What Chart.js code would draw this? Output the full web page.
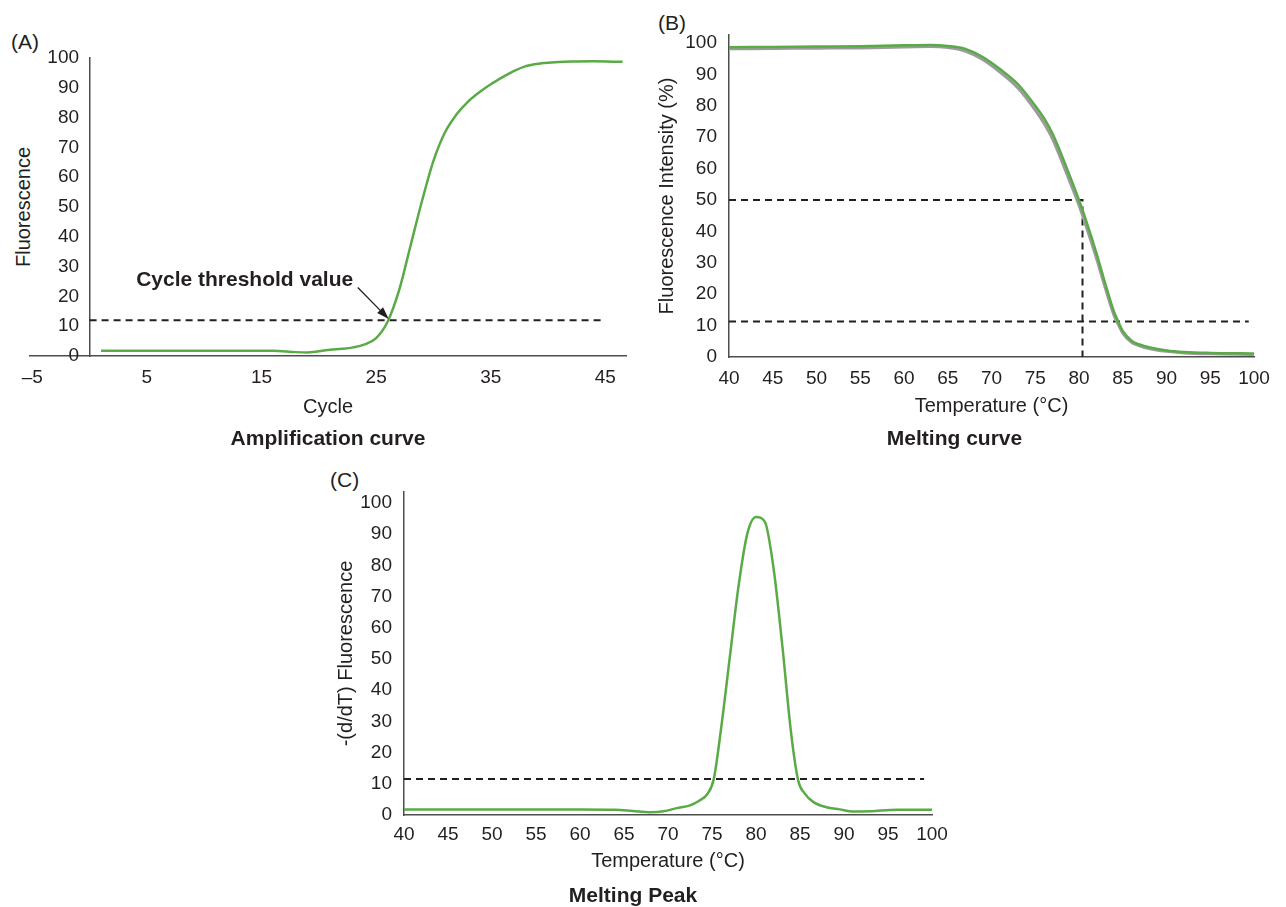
<!DOCTYPE html>
<html>
<head>
<meta charset="utf-8">
<script src="https://cdn.jsdelivr.net/npm/chart.js@4.4.1/dist/chart.umd.min.js"></script>
<style>
  body { margin: 0; width: 1286px; height: 907px; background: #fff; overflow: hidden; position: relative;
         font-family: "Liberation Sans", Arial, sans-serif; color: #231f20; }
  .panel { position: absolute; }
  .lbl { position: absolute; font-size: 21px; line-height: 1; white-space: nowrap; }
  .ytitle { position: absolute; width: 240px; text-align: center; font-size: 20px; line-height: 24px;
            transform: rotate(-90deg); transform-origin: 50% 50%; white-space: nowrap; }
</style>
</head>
<body>
<div class="lbl" style="left:11px;top:31px">(A)</div>
<div class="lbl" style="left:658px;top:12px">(B)</div>
<div class="lbl" style="left:330px;top:469px">(C)</div>
<div class="ytitle" style="left:-97px;top:195px">Fluorescence</div>

<div class="panel" style="left:0;top:0;width:650px;height:460px"><canvas id="chartA"></canvas></div>
<div class="panel" style="left:640px;top:0;width:646px;height:460px"><canvas id="chartB"></canvas></div>
<div class="panel" style="left:320px;top:460px;width:640px;height:450px"><canvas id="chartC"></canvas></div>

<script>
// (A) amplification curve
const cycles = [1, 4, 8, 12, 16, 18, 19, 20, 21, 22, 23, 24, 25, 26, 27, 28, 29, 30, 31, 32, 33, 34, 35, 36, 37, 38, 39, 40, 42, 44, 46.5];
const fluorescence = [1.8, 1.8, 1.8, 1.8, 1.8, 1.3, 1.2, 1.6, 2.1, 2.4, 2.9, 3.9, 6.0, 11.5, 22, 37, 52, 65.5, 75, 81, 85.3, 88.5, 91.2, 93.5, 95.6, 97.2, 98.0, 98.4, 98.8, 98.9, 98.7];
const thresholdA = 12;
const thresholdSpanA = [0, 44.8];
const cycleTicks = [-5, 5, 15, 25, 35, 45];

// (B) melting curve (green run + grey replicate)
const tempB = [40, 45, 50, 55, 60, 63, 65, 67, 69, 71, 73, 75, 76, 77, 78, 79, 80, 81, 82, 83, 84, 84.5, 85, 86, 87, 88, 90, 92, 95, 100];
const intensity = [98.6, 98.7, 98.8, 98.9, 99.2, 99.3, 99.0, 98.1, 95.5, 91.6, 86.9, 80, 76, 71, 64.4, 57.3, 50, 41.8, 33, 23.4, 14.4, 11.2, 8.3, 5.2, 3.9, 3.1, 2.1, 1.6, 1.3, 1.1];
const intensityRep = [98.1, 98.2, 98.3, 98.4, 98.7, 98.8, 98.5, 97.4, 94.7, 90.6, 85.7, 78.6, 74.4, 69.3, 62.6, 55.5, 48.3, 40.1, 31.4, 22.0, 13.3, 10.3, 7.6, 4.7, 3.5, 2.7, 1.8, 1.3, 1.0, 0.8];
const thresholdB = 11.3;
const thresholdSpanB = [40, 99.4];
const halfMelt = 50;
const tmB = 80.4;

// (C) melting peak
const tempC = [40, 45, 50, 55, 60, 64, 66, 68, 69.5, 71, 72.5, 73.5, 74.5, 75.2, 76, 77, 78, 79, 80, 81, 82, 83, 84, 84.8, 85.5, 86.5, 88, 89.5, 91, 93, 96, 100];
const derivative = [1.8, 1.8, 1.8, 1.8, 1.8, 1.7, 1.3, 0.9, 1.2, 2.2, 3.1, 4.5, 6.8, 11.5, 27, 50, 73, 90, 95.5, 94, 79, 54, 26, 11, 7, 4.2, 2.5, 1.8, 1.1, 1.2, 1.7, 1.7];
const thresholdC = 11.5;
const thresholdSpanC = [40, 99.1];

const tempTicks = [40, 45, 50, 55, 60, 65, 70, 75, 80, 85, 90, 95, 100];
const yTicks = [0, 10, 20, 30, 40, 50, 60, 70, 80, 90, 100];

// annotation in (A)
const arrowFrom = { x: 23.4, y: 23 };
const arrowTo = { x: 26.1, y: 12.4 };
const ctLabel = { x: 23, y: 25.4, text: 'Cycle threshold value' };

const ink = '#231f20';
const axisColor = '#4d4d4d';
const green = '#5aab47';
const grey = '#9b9b9b';

Chart.defaults.font.family = '"Liberation Sans", Arial, sans-serif';
Chart.defaults.color = ink;

const pts = (xs, ys) => xs.map((x, i) => ({ x: x, y: ys[i] }));

const curve = (data, color, width) => ({
  data: data, borderColor: color, borderWidth: width, pointRadius: 0,
  cubicInterpolationMode: 'monotone', fill: false
});
const dashed = (data) => ({
  data: data, borderColor: ink, borderWidth: 2, borderDash: [7, 5],
  pointRadius: 0, tension: 0, fill: false
});

const xAxis = (min, max, ticks, title, height, pad, fmt) => ({
  type: 'linear', min: min, max: max,
  grid: { display: false, drawTicks: false },
  border: { color: axisColor, width: 1.5 },
  ticks: { color: ink, font: { size: 19 }, padding: pad, maxRotation: 0, autoSkip: false,
           callback: fmt || (v => v) },
  afterBuildTicks: s => { s.ticks = ticks.map(v => ({ value: v })); },
  afterFit: s => { s.height = height; },
  title: { display: true, text: title, color: ink, font: { size: 20 }, padding: 0 }
});

const yAxis = (max, title, width, position, fmt) => ({
  type: 'linear', min: 0, max: max, position: position || 'left',
  grid: { display: false, drawTicks: false },
  border: { color: axisColor, width: 1.5 },
  ticks: { color: ink, font: { size: 19 }, padding: 12, callback: fmt || (v => v) },
  afterBuildTicks: s => { s.ticks = yTicks.map(v => ({ value: v })); },
  afterFit: s => { if (width) s.width = width; },
  title: { display: !!title, text: title, color: ink, font: { size: 20 }, padding: 0 }
});

const caption = (text, top) => ({
  display: true, position: 'bottom', text: text, color: ink,
  font: { size: 21, weight: 'bold' }, padding: { top: top, bottom: 0 }
});

const annotate = {
  id: 'annotate',
  afterDatasetsDraw(chart) {
    const { ctx, scales: { x, y } } = chart;
    const x1 = x.getPixelForValue(arrowFrom.x), y1 = y.getPixelForValue(arrowFrom.y);
    const x2 = x.getPixelForValue(arrowTo.x), y2 = y.getPixelForValue(arrowTo.y);
    const ang = Math.atan2(y2 - y1, x2 - x1);
    const head = 13;
    ctx.save();
    ctx.strokeStyle = ink;
    ctx.fillStyle = ink;
    ctx.lineWidth = 1.3;
    ctx.beginPath();
    ctx.moveTo(x1, y1);
    ctx.lineTo(x2 - head * 0.8 * Math.cos(ang), y2 - head * 0.8 * Math.sin(ang));
    ctx.stroke();
    ctx.beginPath();
    ctx.moveTo(x2, y2);
    ctx.lineTo(x2 - head * Math.cos(ang - 0.32), y2 - head * Math.sin(ang - 0.32));
    ctx.lineTo(x2 - head * Math.cos(ang + 0.32), y2 - head * Math.sin(ang + 0.32));
    ctx.closePath();
    ctx.fill();
    ctx.font = 'bold 21px "Liberation Sans", Arial, sans-serif';
    ctx.textAlign = 'right';
    ctx.textBaseline = 'middle';
    ctx.fillText(ctLabel.text, x.getPixelForValue(ctLabel.x), y.getPixelForValue(ctLabel.y));
    ctx.restore();
  }
};

const baseOpts = (padding, scales, title) => ({
  responsive: true, maintainAspectRatio: false, animation: false,
  layout: { padding: padding },
  scales: scales,
  plugins: { legend: { display: false }, tooltip: { enabled: false }, title: title }
});

new Chart(document.getElementById('chartA'), {
  type: 'line',
  data: { datasets: [
    curve(pts(cycles, fluorescence), green, 2.5),
    dashed([{ x: thresholdSpanA[0], y: thresholdA }, { x: thresholdSpanA[1], y: thresholdA }])
  ] },
  options: baseOpts({ left: 30, right: 24, top: 58, bottom: 8 }, {
    x: xAxis(-5.2, 46.8, cycleTicks, 'Cycle', 63, 10, v => v < 0 ? '\u2013' + Math.abs(v) : v),
    // axis sits at cycle 0; labels at that position get no padding, so pad them with spaces
    y: yAxis(100, '', 0, { x: 0 }, v => v + '  ')
  }, caption('Amplification curve', 7.8)),
  plugins: [annotate]
});

new Chart(document.getElementById('chartB'), {
  type: 'line',
  data: { datasets: [
    curve(pts(tempB, intensity), green, 2.5),
    curve(pts(tempB, intensityRep), grey, 3),
    dashed([{ x: 40, y: halfMelt }, { x: tmB, y: halfMelt }, { x: tmB, y: 0 }]),
    dashed([{ x: thresholdSpanB[0], y: thresholdB }, { x: thresholdSpanB[1], y: thresholdB }])
  ] },
  options: baseOpts({ left: 15, right: 32, top: 35, bottom: 8 }, {
    x: xAxis(40, 100, tempTicks, 'Temperature (\u00b0C)', 61.4, 10),
    y: yAxis(102.5, 'Fluorescence Intensity (%)', 74)
  }, caption('Melting curve', 8.4))
});

new Chart(document.getElementById('chartC'), {
  type: 'line',
  data: { datasets: [
    curve(pts(tempC, derivative), green, 2.5),
    dashed([{ x: thresholdSpanC[0], y: thresholdC }, { x: thresholdSpanC[1], y: thresholdC }])
  ] },
  options: baseOpts({ left: 14, right: 28, top: 32, bottom: 1.4 }, {
    x: xAxis(40, 100, tempTicks, 'Temperature (\u00b0C)', 58.4, 8),
    y: yAxis(103.5, '-(d/dT) Fluorescence', 70)
  }, caption('Melting Peak', 10))
});
</script>
</body>
</html>
